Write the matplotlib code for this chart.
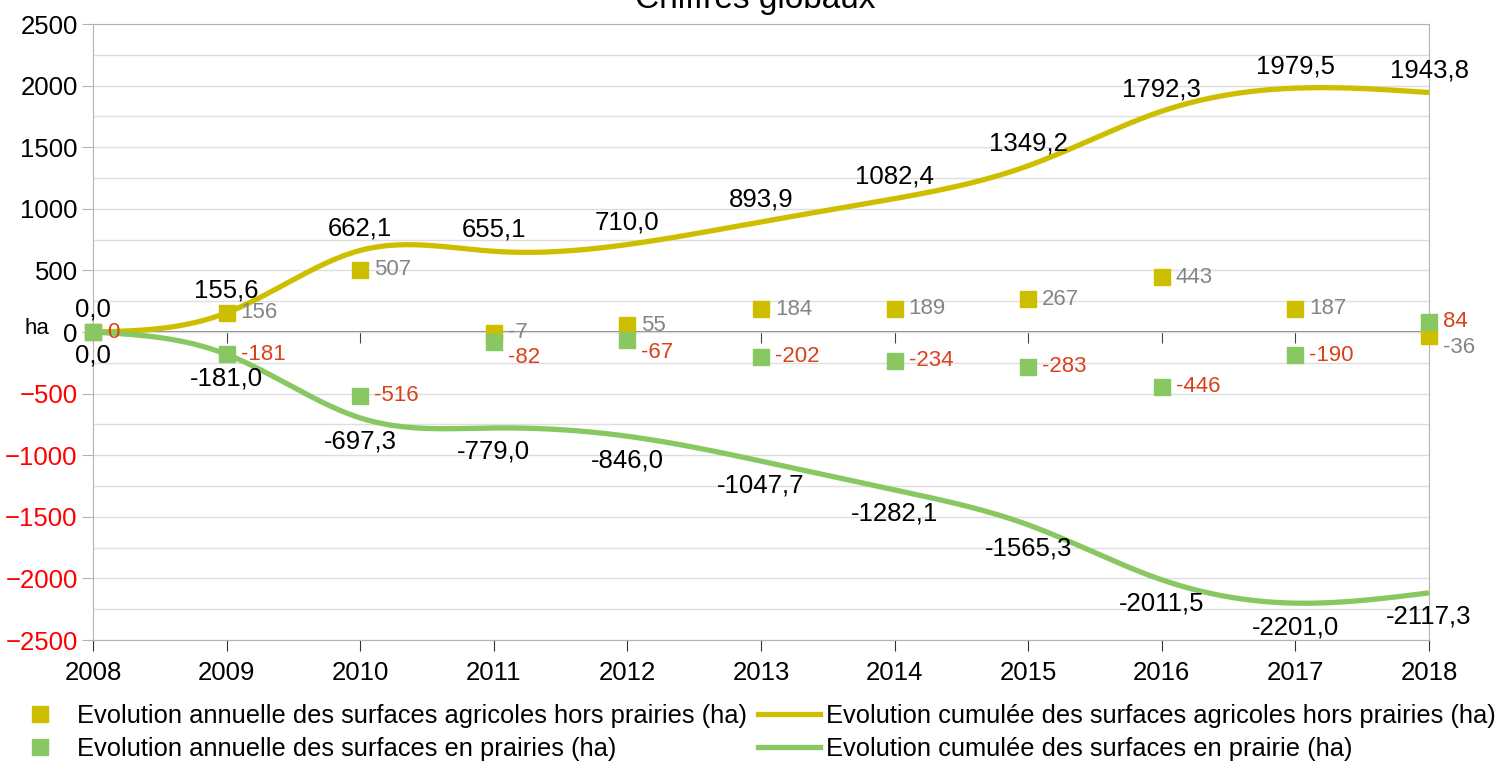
import matplotlib
matplotlib.use('Agg')
import matplotlib.pyplot as plt
import numpy as np
from matplotlib.lines import Line2D

plt.rcParams['font.family'] = ['Liberation Sans', 'DejaVu Sans']

years = list(range(2008, 2019))
annual_agri = [0, 156, 507, -7, 55, 184, 189, 267, 443, 187, -36]
annual_prairie = [0, -181, -516, -82, -67, -202, -234, -283, -446, -190, 84]
cum_agri = [0.0, 155.6, 662.1, 655.1, 710.0, 893.9, 1082.4, 1349.2, 1792.3, 1979.5, 1943.8]
cum_prairie = [0.0, -181.0, -697.3, -779.0, -846.0, -1047.7, -1282.1, -1565.3, -2011.5, -2201.0, -2117.3]

YELLOW = '#cdbf00'
GREEN = '#89c762'
RED_LBL = '#d9411b'
GREY_LBL = '#858585'

# labels that the office program pushed down to avoid collisions (pixels)
nudge_agri = {2018: -11}
nudge_prairie = {2011: -15, 2012: -12}


def smooth(x, y, n=500):
    # natural cubic spline, like the office "smooth line" option
    x = np.asarray(x, float)
    y = np.asarray(y, float)
    k = len(x)
    h = np.diff(x)
    A = np.zeros((k, k))
    b = np.zeros(k)
    A[0, 0] = A[-1, -1] = 1
    for i in range(1, k - 1):
        A[i, i - 1] = h[i - 1]
        A[i, i] = 2 * (h[i - 1] + h[i])
        A[i, i + 1] = h[i]
        b[i] = 6 * ((y[i + 1] - y[i]) / h[i] - (y[i] - y[i - 1]) / h[i - 1])
    M = np.linalg.solve(A, b)
    xs = np.linspace(x[0], x[-1], n)
    idx = np.clip(np.searchsorted(x, xs) - 1, 0, k - 2)
    x0, x1 = x[idx], x[idx + 1]
    hh = x1 - x0
    t0, t1 = x1 - xs, xs - x0
    ys = (M[idx] * t0 ** 3 + M[idx + 1] * t1 ** 3) / (6 * hh) \
        + (y[idx] / hh - M[idx] * hh / 6) * t0 + (y[idx + 1] / hh - M[idx + 1] * hh / 6) * t1
    return xs, ys


def fmt(v):
    return f"{v:.1f}".replace('.', ',')


fig = plt.figure(figsize=(15.1, 7.64), dpi=100)
ax = fig.add_axes([93 / 1510, 124 / 764, 1336 / 1510, 616 / 764])
ax.set_xlim(2008, 2018)
ax.set_ylim(-2500, 2500)

ax.set_yticks(range(-2500, 2501, 500))
ax.set_yticks(range(-2250, 2500, 500), minor=True)
ax.grid(which='both', axis='y', color='#dedede', lw=1)
ax.set_axisbelow(True)
for s in ax.spines.values():
    s.set_color('#b3b3b3')
ax.tick_params(axis='y', which='major', length=8, color='#b3b3b3', labelsize=18.5, pad=3)
ax.tick_params(axis='y', which='minor', length=0)
ax.set_xticks(years)
ax.tick_params(axis='x', length=8, color='#333333', labelsize=18.5, pad=7)
for lbl, v in zip(ax.get_yticklabels(), range(-2500, 2501, 500)):
    if v < 0:
        lbl.set_color('#ff0000')

# axis line at zero with its ticks
sec = ax.secondary_xaxis(0.4999)
sec.set_xticks(years)
sec.xaxis.set_ticks_position('bottom')
sec.tick_params(length=8, color='#444444', labelbottom=False, labeltop=False)
for s in sec.spines.values():
    s.set_color('#777777')
    s.set_linewidth(1.3)

# smooth cumulative lines
xs, ys = smooth(years, cum_agri)
ax.plot(xs, ys, color=YELLOW, lw=3.8, zorder=3, solid_capstyle='butt')
xs, ys = smooth(years, cum_prairie)
ax.plot(xs, ys, color=GREEN, lw=3.8, zorder=3, solid_capstyle='butt')

# annual squares
ax.plot(years, annual_agri, 's', color=YELLOW, ms=11, ls='none', zorder=4, clip_on=False)
ax.plot(years, annual_prairie, 's', color=GREEN, ms=11, ls='none', zorder=5, clip_on=False)

for x, v in zip(years, annual_agri):
    if x == 2008:
        continue
    ax.annotate(str(v), (x, v), xytext=(14, nudge_agri.get(x, 0)), textcoords='offset pixels',
                ha='left', va='center', fontsize=16, color=GREY_LBL, zorder=6)
for x, v in zip(years, annual_prairie):
    ax.annotate(str(v), (x, v), xytext=(14, nudge_prairie.get(x, 0)), textcoords='offset pixels',
                ha='left', va='center', fontsize=16, color=RED_LBL, zorder=6)

for x, v in zip(years, cum_agri):
    ax.annotate(fmt(v), (x, v), xytext=(0, 10), textcoords='offset pixels',
                ha='center', va='bottom', fontsize=18.5, color='black', zorder=6)
for x, v in zip(years, cum_prairie):
    ax.annotate(fmt(v), (x, v), xytext=(0, -12), textcoords='offset pixels',
                ha='center', va='top', fontsize=18.5, color='black', zorder=6)

fig.text(37 / 1510, 1 - 329 / 764, 'ha', ha='center', va='center', fontsize=16)
fig.text(0.5, 1 - 8 / 764, 'Chiffres globaux', ha='center', va='baseline', fontsize=24)

h1 = [Line2D([], [], marker='s', color=YELLOW, ls='none', ms=11),
      Line2D([], [], marker='s', color=GREEN, ls='none', ms=11)]
l1 = ['Evolution annuelle des surfaces agricoles hors prairies (ha)',
      'Evolution annuelle des surfaces en prairies (ha)']
leg1 = fig.legend(h1, l1, loc='upper left', bbox_to_anchor=(25 / 1510, 1 - 704 / 764),
                  frameon=False, fontsize=18.4, handlelength=1.2, handletextpad=0.85,
                  labelspacing=0.35, borderpad=0, borderaxespad=0)

h2 = [Line2D([], [], color=YELLOW, lw=3.8), Line2D([], [], color=GREEN, lw=3.8)]
l2 = ['Evolution cumulée des surfaces agricoles hors prairies (ha)',
      'Evolution cumulée des surfaces en prairie (ha)']
leg2 = fig.legend(h2, l2, loc='upper left', bbox_to_anchor=(758 / 1510, 1 - 704 / 764),
                  frameon=False, fontsize=18.4, handlelength=2.42, handletextpad=0.23,
                  labelspacing=0.35, borderpad=0, borderaxespad=0)

fig.savefig('out.png', dpi=100)
